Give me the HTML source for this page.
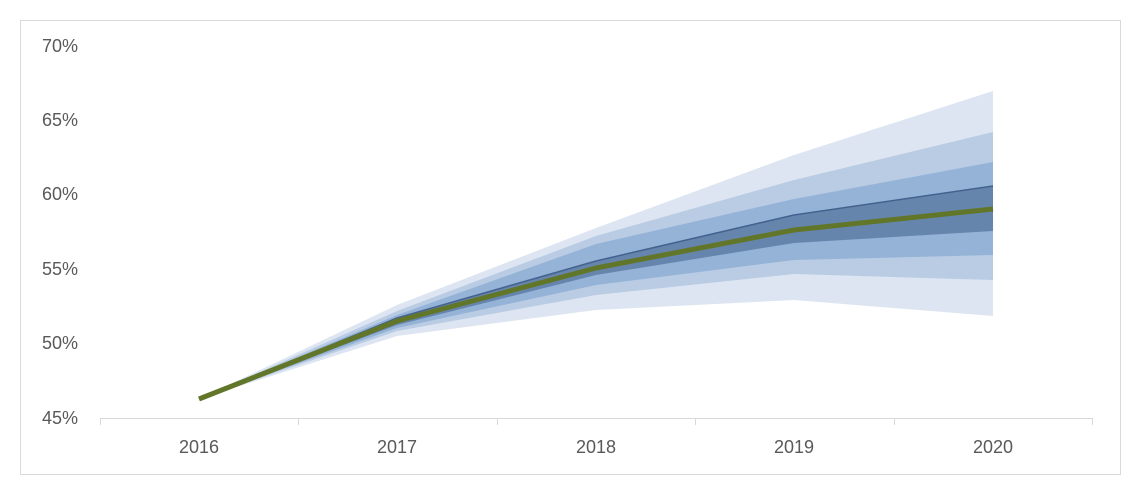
<!DOCTYPE html>
<html><head><meta charset="utf-8"><style>
body{margin:0;background:#fff;width:1141px;height:495px;overflow:hidden}
text{font-family:"Liberation Sans",sans-serif;font-size:18px;fill:#595959}
</style></head><body>
<svg width="1141" height="495" xmlns="http://www.w3.org/2000/svg">
<rect x="20.5" y="20.5" width="1100" height="454" fill="#fff" stroke="#d9d9d9"/>
<polygon fill="#dce5f1" points="199,399 397,305 596,228 794,155 993,91 993,316 794,300 596,310 397,336"/>
<polygon fill="#b9cce4" points="199,399 397,311 596,236 794,180 993,132 993,280 794,274 596,295 397,331"/>
<polygon fill="#95b3d7" points="199,399 397,315 596,244 794,199 993,162 993,255 794,260 596,285 397,328"/>
<polygon fill="#6685ad" points="199,399 397,318 596,261 794,215 993,186 993,231 794,243 596,275 397,325"/>
<polyline fill="none" stroke="#44628f" stroke-width="1.5" points="199,399 397,318 596,261 794,215 993,186"/>
<polyline fill="none" stroke="#62762a" stroke-width="5" stroke-linejoin="round" points="199,399 397,321 596,268 794,230 993,209"/>
<line x1="100" y1="418.5" x2="1092" y2="418.5" stroke="#d9d9d9"/>
<g stroke="#d9d9d9"><line x1="100.5" y1="418" x2="100.5" y2="425"/><line x1="298.5" y1="418" x2="298.5" y2="425"/><line x1="497.5" y1="418" x2="497.5" y2="425"/><line x1="695.5" y1="418" x2="695.5" y2="425"/><line x1="894.5" y1="418" x2="894.5" y2="425"/><line x1="1092.5" y1="418" x2="1092.5" y2="425"/></g>
<g text-anchor="end"><text x="78" y="52">70%</text><text x="78" y="126">65%</text><text x="78" y="200">60%</text><text x="78" y="275">55%</text><text x="78" y="349">50%</text><text x="78" y="424">45%</text></g>
<g text-anchor="middle"><text x="199" y="453">2016</text><text x="397" y="453">2017</text><text x="596" y="453">2018</text><text x="794" y="453">2019</text><text x="993" y="453">2020</text></g>
</svg>
</body></html>
